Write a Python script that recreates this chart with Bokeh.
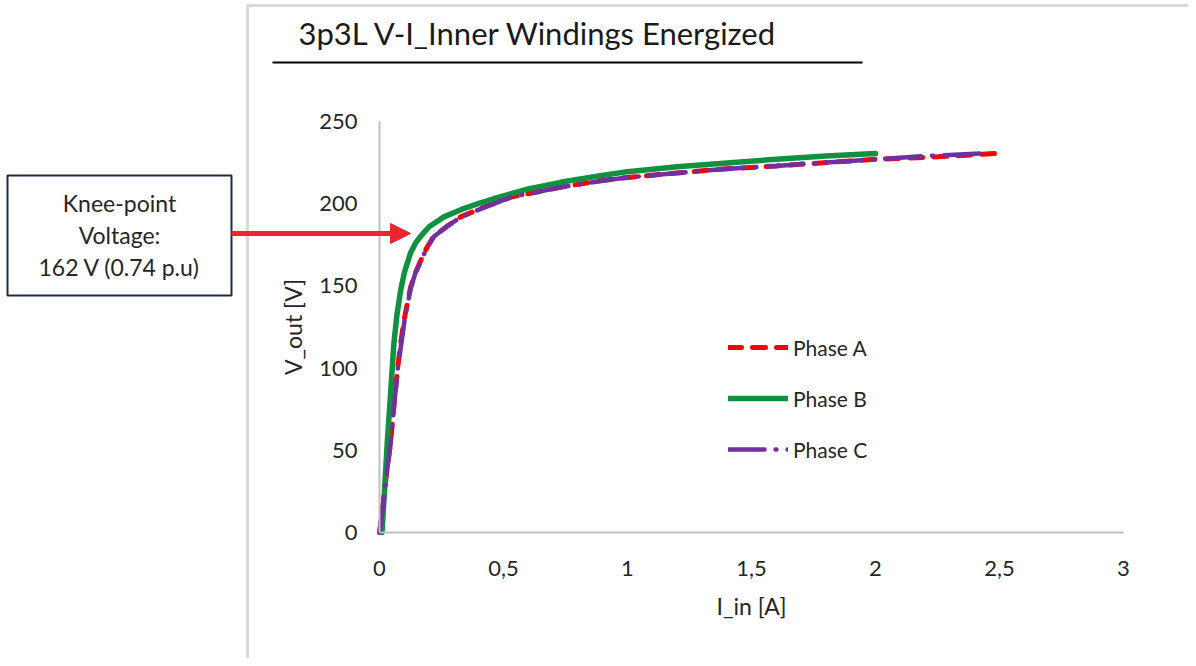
from bokeh.plotting import figure
from bokeh.models import (Range1d, FixedTicker, Legend, LegendItem, Label, BoxAnnotation,
                          Arrow, NormalHead)
from bokeh.embed import file_html
from bokeh.resources import INLINE

# ---- data ----
ia = [0.0, 0.015, 0.03, 0.044, 0.06, 0.075, 0.085, 0.1, 0.125, 0.145, 0.165, 0.19, 0.218,
      0.27, 0.327, 0.407, 0.53, 0.73, 0.89, 1.0, 1.375, 1.6, 2.0, 2.25, 2.48]
va = [0, 18, 38, 54, 80, 102, 115, 130, 149, 158, 165, 173, 180,
      186, 192, 197, 204, 210, 214, 216, 221, 223, 227, 228.5, 230.5]

ib = [0.01, 0.02, 0.031, 0.045, 0.058, 0.07, 0.085, 0.1, 0.125, 0.145, 0.165, 0.2, 0.26,
      0.33, 0.407, 0.46, 0.6, 0.73, 0.89, 1.0, 1.2, 1.375, 1.6, 1.8, 2.0]
vb = [0, 25, 54, 85, 115, 132, 147, 158, 170, 176, 180, 186, 192,
      196.5, 200.5, 203, 209, 213, 217, 219.5, 222.5, 224.5, 227, 229, 230.5]

ic = [0.0, 0.015, 0.03, 0.045, 0.06, 0.075, 0.088, 0.1, 0.125, 0.145, 0.168, 0.19, 0.22,
      0.27, 0.33, 0.41, 0.53, 0.73, 0.9, 1.0, 1.38, 1.6, 2.0, 2.2, 2.42]
vc = [0, 17, 37, 54, 79, 101, 115, 128, 148, 158, 165, 173, 180,
      186, 192, 197, 204, 210, 214, 216, 221, 223, 227, 229, 230.5]

x_ticks = [0, 0.5, 1, 1.5, 2, 2.5, 3]
x_tick_labels = ["0", "0,5", "1", "1,5", "2", "2,5", "3"]
y_ticks = [0, 50, 100, 150, 200, 250]

title_text = "3p3L V-I_Inner Windings Energized"
note_lines = ["Knee-point", "Voltage:", "162 V (0.74 p.u)"]

FONT = "Lato"
TXT = "#262626"

W, H = 1188, 658
X0, Y0 = 379, 532          # pixel position of data origin
SX, SY = 248.0, 411.0 / 250  # pixels per data unit

p = figure(width=W, height=H, output_backend="svg", toolbar_location=None,
           x_range=Range1d(-X0 / SX, (W - X0) / SX),
           y_range=Range1d(-(H - Y0) / SY, Y0 / SY),
           min_border_left=0, min_border_right=0, min_border_top=0, min_border_bottom=0)
p.outline_line_color = None
p.grid.grid_line_color = None
p.background_fill_color = "white"
p.border_fill_color = "white"

for ax in (p.xaxis[0], p.yaxis[0]):
    ax.fixed_location = 0
    ax.axis_line_color = "#bfbfbf"
    ax.axis_line_width = 2
    ax.major_tick_line_color = None
    ax.minor_tick_line_color = None
    ax.major_label_text_font = FONT
    ax.major_label_text_font_size = "22px"
    ax.major_label_text_color = TXT
    ax.axis_label_text_font = FONT
    ax.axis_label_text_font_size = "23px"
    ax.axis_label_text_font_style = "normal"
    ax.axis_label_text_color = TXT

p.xaxis.bounds = (0, 3)
p.xaxis.ticker = FixedTicker(ticks=x_ticks)
p.xaxis.major_label_overrides = {t: l for t, l in zip(x_ticks, x_tick_labels)}
p.xaxis.major_label_standoff = 22
p.xaxis.axis_label = "I_in [A]"
p.xaxis.axis_label_standoff = 13

p.yaxis.bounds = (0, 250)
p.yaxis.ticker = FixedTicker(ticks=y_ticks)
p.yaxis.major_label_standoff = 16
p.yaxis.axis_label = "V_out [V]"
p.yaxis.axis_label_standoff = 9

ra = p.line(ia, va, line_color="#ff0000", line_width=5, line_dash="13 11", line_cap="round")
rb = p.line(ib, vb, line_color="#11903f", line_width=5.5, line_cap="round", line_join="round")
rc = p.line(ic, vc, line_color="#7030a0", line_width=4.5, line_dash="36 11 1 11", line_cap="round")

def fy(Y):
    return H - Y

legend = Legend(items=[LegendItem(label="Phase A", renderers=[ra]),
                       LegendItem(label="Phase B", renderers=[rb]),
                       LegendItem(label="Phase C", renderers=[rc])],
                location=(728, fy(464)), orientation="vertical",
                glyph_width=60, glyph_height=30, label_height=30, spacing=21,
                label_standoff=5, padding=0, margin=0,
                label_text_font=FONT, label_text_font_size="21px", label_text_color=TXT,
                border_line_color=None, background_fill_alpha=0)
p.add_layout(legend, "center")

# panel border (gray) around the chart area
p.add_layout(BoxAnnotation(left=247, right=W + 50, top=fy(5), bottom=-50,
                           left_units="screen", right_units="screen",
                           top_units="screen", bottom_units="screen",
                           fill_alpha=0, line_color="#d9d9d9", line_alpha=1,
                           line_width=3, level="underlay"))

# title + underline
p.add_layout(Label(x=298, y=fy(32), x_units="screen", y_units="screen", text=title_text,
                   text_font=FONT, text_font_size="31px", text_color="#1a1a1a",
                   text_baseline="middle"))
p.add_layout(Arrow(x_start=272, y_start=fy(62), x_end=862, y_end=fy(62),
                   start_units="screen", end_units="screen", end=None,
                   line_color="black", line_width=2))

# knee-point note box
p.add_layout(BoxAnnotation(left=7, right=231, top=fy(175), bottom=fy(295),
                           left_units="screen", right_units="screen",
                           top_units="screen", bottom_units="screen",
                           fill_color="white", fill_alpha=1,
                           line_color="#1f2a4a", line_alpha=1, line_width=2))
for i, t in enumerate(note_lines):
    p.add_layout(Label(x=119, y=fy(202 + 32 * i), x_units="screen", y_units="screen", text=t,
                       text_font=FONT, text_font_size="23px", text_color=TXT,
                       text_align="center", text_baseline="middle"))
p.add_layout(Arrow(x_start=231, y_start=fy(233), x_end=410, y_end=fy(233),
                   start_units="screen", end_units="screen",
                   end=NormalHead(size=20, fill_color="#ee2530", line_color="#ee2530"),
                   line_color="#ee2530", line_width=5))

open("out.html", "w").write(file_html(p, INLINE))
